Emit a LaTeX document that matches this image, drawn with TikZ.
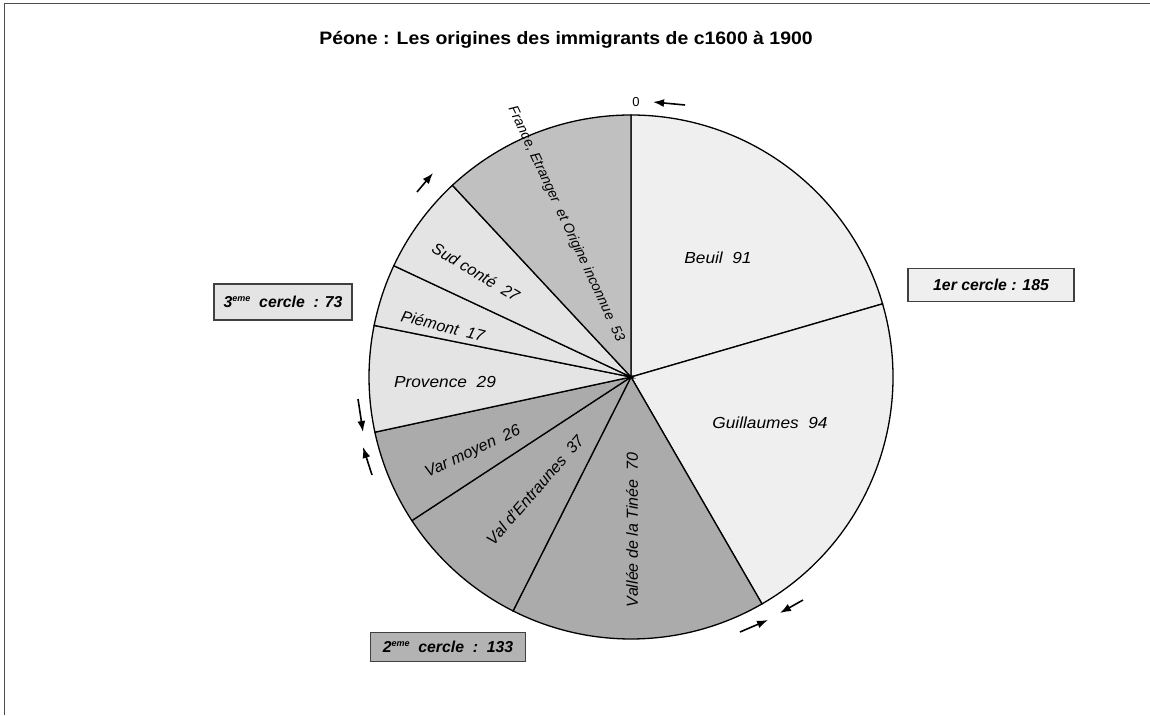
\documentclass[tikz,border=0pt]{standalone}
\usepackage{fontspec}
\setmainfont{Liberation Sans}
\newfontfamily\etire[FakeStretch=1.08]{Liberation Sans}
\usetikzlibrary{arrows.meta}

\definecolor{grisclair}{HTML}{EFEFEF}
\definecolor{grispale}{HTML}{E4E4E4}
\definecolor{grismoyen}{HTML}{C0C0C0}
\definecolor{grisfonce}{HTML}{ABABAB}
\definecolor{bordboite}{HTML}{404040}

\newcommand{\expo}[1]{\raisebox{0.75ex}{\fontsize{9}{9}\selectfont #1}}

\begin{document}
\begin{tikzpicture}[x=1pt, y=1pt,
    part/.style={draw=black, line width=1.3pt},
    etiquette/.style={font=\fontsize{16}{18}\selectfont\itshape, inner sep=0pt},
    etiqlarge/.style={font=\fontsize{16}{18}\selectfont\etire\itshape, inner sep=0pt},
    etiqpetite/.style={font=\fontsize{14}{16}\selectfont\itshape, inner sep=0pt},
    cercle/.style={draw=bordboite, line width=1.3pt, inner sep=0pt,
      font=\fontsize{15.8}{18}\selectfont\bfseries\itshape},
    fleche/.style={-{Latex[length=11pt, width=8pt]}, line width=1.6pt}]
  \useasboundingbox (0,0) rectangle (1150,715);

  % Cadre
  \draw[line width=1pt, black!70] (4,0) -- (4,711) -- (1150,711);

  % Titre
  \node[font=\fontsize{18}{20}\selectfont\etire\bfseries] (titre) at (566,675)
    {Péone : Les origines des immigrants de c1600 à 1900};

  % Secteurs du camembert
  \coordinate (centre) at (631,338);
  \foreach \debut/\fin/\teinte in {
      90/16.216/grisclair,
      16.216/-60/grisclair,
      -60/-116.757/grisfonce,
      -116.757/-146.757/grisfonce,
      -146.757/-167.838/grisfonce,
      -167.838/-191.351/grispale,
      -191.351/-205.135/grispale,
      -205.135/-227.027/grispale,
      -227.027/-270/grismoyen} {
      \filldraw[part, fill=\teinte] (centre) -- ++(\debut:262)
        arc[start angle=\debut, end angle=\fin, radius=262] -- cycle;
    }

  % Etiquettes des secteurs
  \foreach \nom/\x/\y/\rot/\genre/\texte in {
      beuil/718/457/0/etiqlarge/{Beuil~~91},
      guillaumes/770/292/0/etiqlarge/{Guillaumes~~94},
      tinee/632/185/90/etiquette/{Vallée de la Tinée~~70},
      entraunes/535/225/49/etiquette/{Val d'Entraunes~~37},
      varmoyen/473/263/25/etiquette/{Var moyen~~26},
      provence/445/333/0/etiqlarge/{Provence~~29},
      piemont/443/389/-14/etiquette/{Piémont~~17},
      sudconte/476/443/-31/etiquette/{Sud conté~~27},
      france/566/491/-65/etiqpetite/{France, Etranger~~et Origine inconnue~~53}} {
      \node[\genre, rotate=\rot] (\nom) at (\x,\y) {\texte};
    }
  \node[font=\fontsize{13}{15}\selectfont] (zero) at (636,613) {0};

  % Boites des cercles
  \node[cercle, fill=grisclair, minimum width=166, minimum height=33]
    (cercle1) at (991,430) {1er cercle : 185};
  \node[cercle, fill=grispale, minimum width=138, minimum height=36]
    (cercle3) at (283,413) {3\expo{eme}~~cercle~~: 73};
  \node[cercle, fill=grisfonce!90, minimum width=155, minimum height=29]
    (cercle2) at (448,68) {2\expo{eme}~~cercle~~:~~133};

  % Fleches
  \foreach \n/\xa/\ya/\xb/\yb in {
      1/685/610/653/613,
      2/417/523/433/542,
      3/358/316/363/283,
      4/372/240/363/268,
      5/803/115/780/102,
      6/740/83/768/95} {
      \coordinate (depart\n) at (\xa,\ya);
      \coordinate (arrivee\n) at (\xb,\yb);
      \draw[fleche] (depart\n) -- (arrivee\n);
    }
\end{tikzpicture}
\end{document}
